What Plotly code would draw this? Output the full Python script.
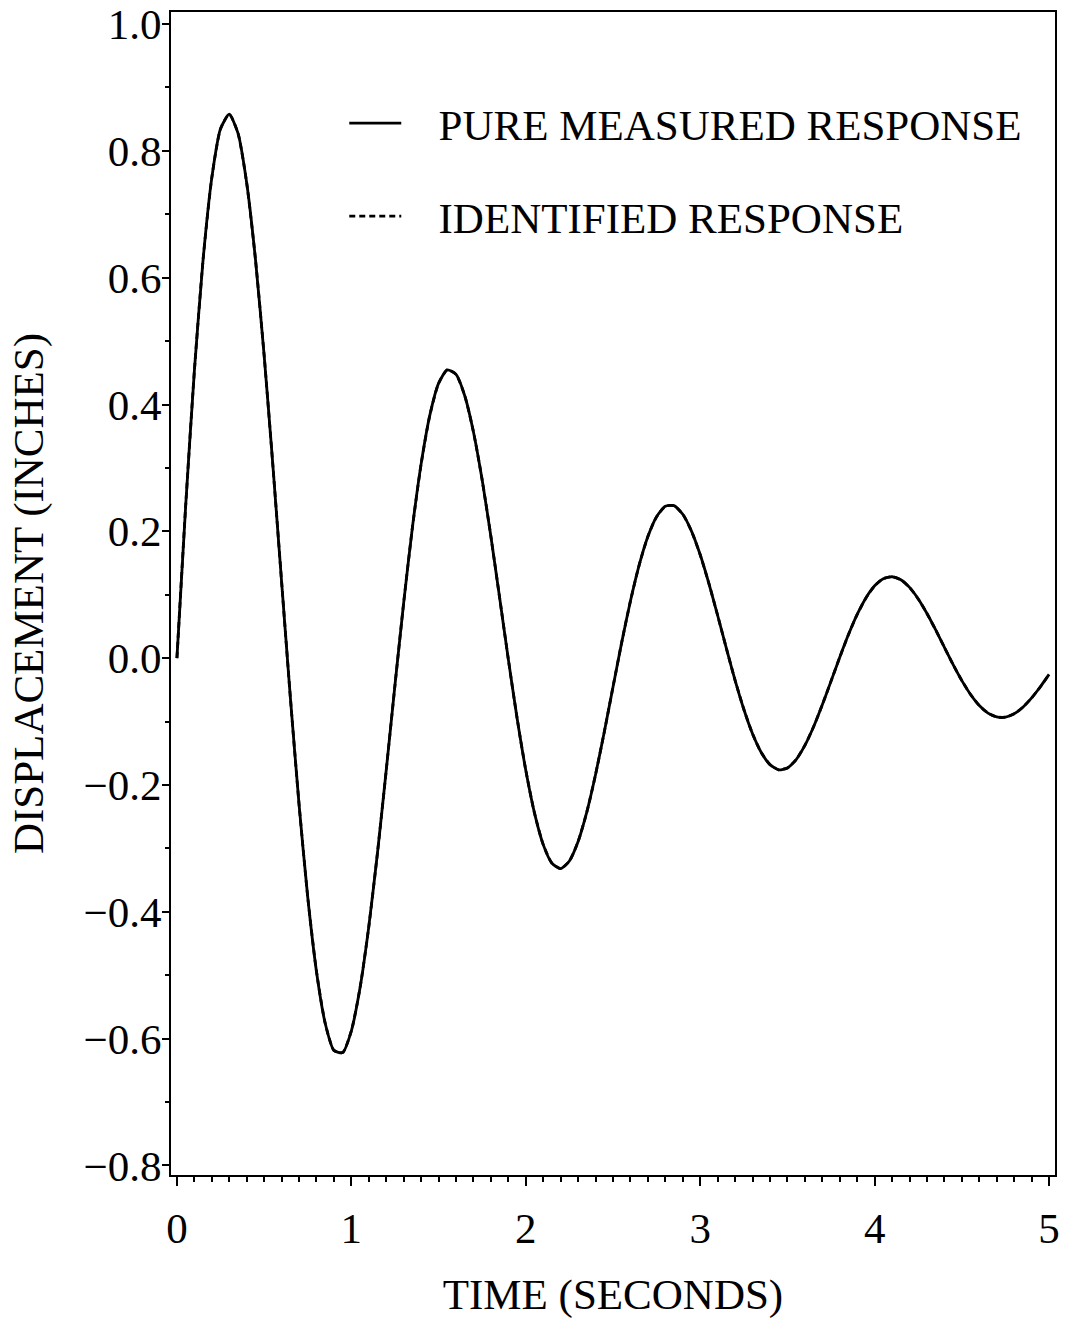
import plotly.graph_objects as go

# Time samples (seconds)
time_s = [0.00, 0.05, 0.10, 0.15, 0.20, 0.25, 0.30, 0.35, 0.40, 0.45,
          0.50, 0.55, 0.60, 0.65, 0.70, 0.75, 0.80, 0.85, 0.90, 0.95,
          1.00, 1.05, 1.10, 1.15, 1.20, 1.25, 1.30, 1.35, 1.40, 1.45,
          1.50, 1.55, 1.60, 1.65, 1.70, 1.75, 1.80, 1.85, 1.90, 1.95,
          2.00, 2.05, 2.10, 2.15, 2.20, 2.25, 2.30, 2.35, 2.40, 2.45,
          2.50, 2.55, 2.60, 2.65, 2.70, 2.75, 2.80, 2.85, 2.90, 2.95,
          3.00, 3.05, 3.10, 3.15, 3.20, 3.25, 3.30, 3.35, 3.40, 3.45,
          3.50, 3.55, 3.60, 3.65, 3.70, 3.75, 3.80, 3.85, 3.90, 3.95,
          4.00, 4.05, 4.10, 4.15, 4.20, 4.25, 4.30, 4.35, 4.40, 4.45,
          4.50, 4.55, 4.60, 4.65, 4.70, 4.75, 4.80, 4.85, 4.90, 4.95,
          5.00]

# Pure measured displacement (inches)
measured = [0.0000, 0.2396, 0.4530, 0.6286, 0.7578, 0.8349, 0.8578, 0.8279, 0.7494, 0.6296,
            0.4776, 0.3041, 0.1208, -0.0609, -0.2300, -0.3770, -0.4941, -0.5757, -0.6185, -0.6219,
            -0.5876, -0.5195, -0.4234, -0.3064, -0.1766, -0.0425, 0.0877, 0.2062, 0.3064, 0.3833,
            0.4333, 0.4547, 0.4476, 0.4139, 0.3568, 0.2809, 0.1918, 0.0955, -0.0019, -0.0944,
            -0.1768, -0.2444, -0.2940, -0.3234, -0.3319, -0.3199, -0.2892, -0.2425, -0.1835, -0.1163,
            -0.0453, 0.0249, 0.0902, 0.1469, 0.1920, 0.2232, 0.2395, 0.2405, 0.2270, 0.2004,
            0.1630, 0.1176, 0.0673, 0.0154, -0.0349, -0.0806, -0.1193, -0.1488, -0.1679, -0.1760,
            -0.1730, -0.1598, -0.1375, -0.1081, -0.0735, -0.0362, 0.0015, 0.0372, 0.0690, 0.0950,
            0.1141, 0.1253, 0.1284, 0.1236, 0.1116, 0.0934, 0.0705, 0.0445, 0.0170, -0.0102,
            -0.0354, -0.0572, -0.0746, -0.0866, -0.0927, -0.0930, -0.0877, -0.0773, -0.0627, -0.0451,
            -0.0256]

# Identified displacement (inches) - coincides with the measured response
identified = [0.0000, 0.2396, 0.4530, 0.6286, 0.7578, 0.8349, 0.8578, 0.8279, 0.7494, 0.6296,
              0.4776, 0.3041, 0.1208, -0.0609, -0.2300, -0.3770, -0.4941, -0.5757, -0.6185, -0.6219,
              -0.5876, -0.5195, -0.4234, -0.3064, -0.1766, -0.0425, 0.0877, 0.2062, 0.3064, 0.3833,
              0.4333, 0.4547, 0.4476, 0.4139, 0.3568, 0.2809, 0.1918, 0.0955, -0.0019, -0.0944,
              -0.1768, -0.2444, -0.2940, -0.3234, -0.3319, -0.3199, -0.2892, -0.2425, -0.1835, -0.1163,
              -0.0453, 0.0249, 0.0902, 0.1469, 0.1920, 0.2232, 0.2395, 0.2405, 0.2270, 0.2004,
              0.1630, 0.1176, 0.0673, 0.0154, -0.0349, -0.0806, -0.1193, -0.1488, -0.1679, -0.1760,
              -0.1730, -0.1598, -0.1375, -0.1081, -0.0735, -0.0362, 0.0015, 0.0372, 0.0690, 0.0950,
              0.1141, 0.1253, 0.1284, 0.1236, 0.1116, 0.0934, 0.0705, 0.0445, 0.0170, -0.0102,
              -0.0354, -0.0572, -0.0746, -0.0866, -0.0927, -0.0930, -0.0877, -0.0773, -0.0627, -0.0451,
              -0.0256]

x_ticks = [0, 1, 2, 3, 4, 5]
y_ticks = [-0.8, -0.6, -0.4, -0.2, 0.0, 0.2, 0.4, 0.6, 0.8, 1.0]

FONT = "Liberation Serif"
PAD = "\u00a0\u00a0\u00a0"

fig = go.Figure()
fig.add_trace(go.Scatter(
    x=time_s, y=measured, mode="lines", name=PAD + "PURE MEASURED RESPONSE",
    line=dict(color="black", width=2.8, shape="spline", smoothing=0.6),
    legendgroup="a"))
fig.add_trace(go.Scatter(
    x=time_s, y=identified, mode="lines", name=PAD + "IDENTIFIED RESPONSE",
    line=dict(color="black", width=2.8, dash="6px,4px", shape="spline", smoothing=0.6),
    legendgroup="b"))

fig.update_layout(
    width=1065, height=1319,
    margin=dict(l=171, r=10, t=12, b=144, autoexpand=False),
    paper_bgcolor="white", plot_bgcolor="white",
    font=dict(family=FONT, size=43, color="black"),
    legend=dict(x=0.196, y=0.934, xanchor="left", yanchor="top",
                bgcolor="rgba(0,0,0,0)", tracegroupgap=34,
                itemwidth=52, font=dict(family=FONT, size=43)),
    showlegend=True,
)
fig.update_xaxes(
    range=[-0.034, 5.034], tickvals=x_ticks, ticktext=[str(v) for v in x_ticks],
    showline=True, linecolor="black", linewidth=2, mirror=True,
    ticks="outside", ticklen=9, tickwidth=2, tickcolor="black",
    minor=dict(dtick=0.1, ticks="outside", ticklen=5, tickwidth=1.5, tickcolor="black"),
    showgrid=False, zeroline=False, ticklabelstandoff=5, automargin=False,
    ticklabeloverflow="allow",
    title=dict(text="TIME (SECONDS)", font=dict(family=FONT, size=43), standoff=30),
)
fig.update_yaxes(
    range=[-0.815, 1.019], tickvals=y_ticks, tickformat=".1f",
    showline=True, linecolor="black", linewidth=2, mirror=True,
    ticks="outside", ticklen=7, tickwidth=2, tickcolor="black",
    minor=dict(dtick=0.1, ticks="outside", ticklen=4, tickwidth=1.5, tickcolor="black"),
    showgrid=False, zeroline=False, automargin=False, ticklabelstandoff=-8,
    ticklabeloverflow="allow",
    title=dict(text="DISPLACEMENT (INCHES)", font=dict(family=FONT, size=43), standoff=26),
)

# Remove the default page margin so the figure fills the window exactly.
fig.write_html("out.html",
               config={"displayModeBar": False},
               post_script="document.body.style.margin='0px';document.body.style.overflow='hidden';")
